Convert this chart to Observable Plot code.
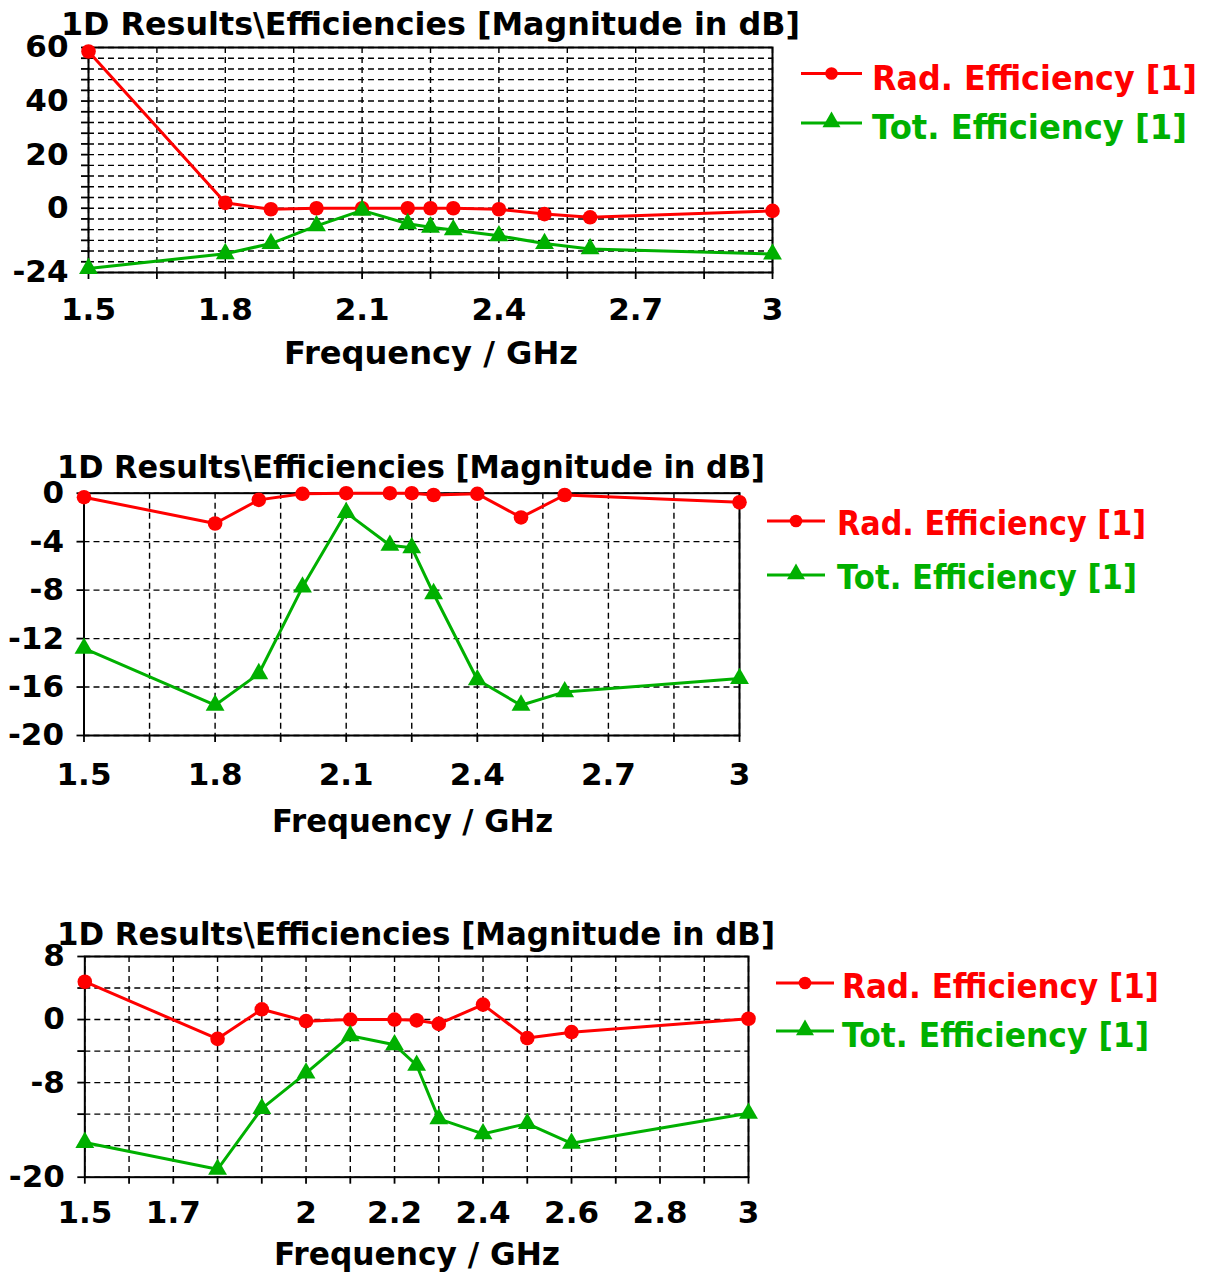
<!DOCTYPE html>
<html>
<head>
<meta charset="utf-8">
<script src="https://cdn.jsdelivr.net/npm/d3@7"></script>
<script src="https://cdn.jsdelivr.net/npm/@observablehq/plot@0.6"></script>
<style>
  body { margin: 0; background: #fff; }
  #root { position: relative; width: 1209px; height: 1272px; overflow: hidden; background: #fff; }
  #root > svg { position: absolute; left: 0; }
</style>
</head>
<body>
<div id="root"></div>
<script>
// ---------- data ----------
const freqGHz = [1.5, 1.8, 1.9, 2.0, 2.1, 2.2, 2.25, 2.3, 2.4, 2.5, 2.6, 3.0];

const radEff1 = [58.5, 2, -0.4, 0, 0, 0, 0, 0, -0.4, -2.2, -3.4, -1];
const totEff1 = [-22.5, -17, -13.2, -6.6, -0.8, -5.8, -7.1, -8.1, -10.3, -13.2, -15.2, -17.1];

const radEff2 = [-0.33, -2.5, -0.55, -0.05, 0, 0, 0, -0.15, -0.05, -2.0, -0.15, -0.75];
const totEff2 = [-12.8, -17.5, -14.9, -7.75, -1.6, -4.3, -4.5, -8.3, -15.4, -17.5, -16.4, -15.3];

const radEff3 = [4.8, -2.45, 1.3, -0.2, 0, 0, -0.1, -0.55, 1.9, -2.35, -1.6, 0.1];
const totEff3 = [-15.6, -19.0, -11.3, -6.8, -2.05, -3.2, -5.8, -12.6, -14.5, -13.2, -15.7, -11.9];

// tick labels and grid positions
const xLabels12 = [1.5, 1.8, 2.1, 2.4, 2.7, 3];
const xGrid12 = [1.5, 1.65, 1.8, 1.95, 2.1, 2.25, 2.4, 2.55, 2.7, 2.85, 3];
const xLabels3 = [1.5, 1.7, 2, 2.2, 2.4, 2.6, 2.8, 3];
const xGrid3 = [1.5, 1.6, 1.7, 1.8, 1.9, 2.0, 2.1, 2.2, 2.3, 2.4, 2.5, 2.6, 2.7, 2.8, 2.9, 3.0];

const yLabels1 = [60, 40, 20, 0, -24];
const yGrid1 = [60, 56, 52, 48, 44, 40, 36, 32, 28, 24, 20, 16, 12, 8, 4, 0, -4, -8, -12, -16, -20, -24];
const yLabels2 = [0, -4, -8, -12, -16, -20];
const yGrid2 = [0, -4, -8, -12, -16, -20];
const yLabels3 = [8, 0, -8, -20];
const yGrid3 = [8, 4, 0, -4, -8, -12, -16, -20];

const titleText = "1D Results\\Efficiencies [Magnitude in dB]";
const xAxisText = "Frequency / GHz";
const seriesNames = ["Rad. Efficiency [1]", "Tot. Efficiency [1]"];

const RED = "#ff0000";
const GREEN = "#00b000";
const FONT = "DejaVu Sans";

// ---------- layout ----------
const panels = [
  { top: 0,   mt: 47,   ph: 225,   ml: 88,   xr: 772, ydom: [-24, 60], rad: radEff1, tot: totEff1,
    xLabels: xLabels12, xGrid: xGrid12, yLabels: yLabels1, yGrid: yGrid1, xpad: 25,
    title: {x: 61, y: 35, len: 739},
    xlab: {x: 284, y: 364, len: 294},
    leg: {x0: 801, x1: 862, y1: 73.5, y2: 123, tx: 872, b1: 90, b2: 139, l1: 325, l2: 315} },
  { top: 440, mt: 52.7, ph: 242.3, ml: 83.5, xr: 739, ydom: [-20, 0], rad: radEff2, tot: totEff2,
    xLabels: xLabels12, xGrid: xGrid12, yLabels: yLabels2, yGrid: yGrid2, xpad: 27,
    title: {x: 57, y: 478, len: 708},
    xlab: {x: 272, y: 832, len: 281},
    leg: {x0: 767, x1: 825, y1: 521, y2: 575, tx: 837, b1: 535, b2: 589, l1: 309, l2: 300} },
  { top: 900, mt: 56,   ph: 220.7, ml: 84.3, xr: 748, ydom: [-20, 8], rad: radEff3, tot: totEff3,
    xLabels: xLabels3, xGrid: xGrid3, yLabels: yLabels3, yGrid: yGrid3, xpad: 24,
    title: {x: 57, y: 945, len: 718},
    xlab: {x: 274, y: 1265, len: 286},
    leg: {x0: 776, x1: 834, y1: 983, y2: 1031, tx: 842, b1: 998, b2: 1047, l1: 317, l2: 307} }
];

const root = document.getElementById("root");
const fmtY = d => (d < 0 ? "-" + Math.abs(d) : String(d));
const fnt = {fontSize: 31, fontWeight: "bold", fill: "black"};

for (const cfg of panels) {
  const rows = freqGHz.map((f, i) => ({f, rad: cfg.rad[i], tot: cfg.tot[i]}));
  const mb = 80;
  const chart = Plot.plot({
    width: 1209,
    height: cfg.mt + cfg.ph + mb,
    marginTop: cfg.mt,
    marginLeft: cfg.ml,
    marginRight: 1209 - cfg.xr,
    marginBottom: mb,
    style: {fontFamily: FONT, background: "transparent", overflow: "visible"},
    x: {domain: [1.5, 3]},
    y: {domain: cfg.ydom},
    marks: [
      Plot.ruleX(cfg.xGrid, {stroke: "black", strokeWidth: 1.4, strokeDasharray: "6,4"}),
      Plot.ruleY(cfg.yGrid, {stroke: "black", strokeWidth: 1.4, strokeDasharray: "6,4"}),
      Plot.frame({stroke: "black", strokeWidth: 2}),
      Plot.axisX({ticks: cfg.xGrid, tickSize: 7, tickFormat: () => "", label: null, strokeWidth: 1.8}),
      Plot.axisY({ticks: cfg.yGrid, tickSize: 7, tickFormat: () => "", label: null, strokeWidth: 1.8}),
      Plot.axisX({ticks: cfg.xLabels, tickSize: 0, tickPadding: cfg.xpad, tickFormat: d => String(d), label: null, ...fnt}),
      Plot.axisY({ticks: cfg.yLabels, tickSize: 0, tickPadding: 20, tickFormat: fmtY, label: null, ...fnt}),
      Plot.line(rows, {x: "f", y: "rad", stroke: RED, strokeWidth: 3}),
      Plot.line(rows, {x: "f", y: "tot", stroke: GREEN, strokeWidth: 3}),
      Plot.dot(rows, {x: "f", y: "rad", r: 7.3, fill: RED, symbol: "circle"}),
      Plot.dot(rows, {x: "f", y: "tot", r: 7, fill: GREEN, symbol: "triangle"})
    ]
  });
  chart.style.top = cfg.top + "px";
  root.appendChild(chart);
}

// ---------- titles, axis labels, legends ----------
const svg = d3.create("svg")
  .attr("width", 1209).attr("height", 1272)
  .style("top", "0px")
  .attr("font-family", FONT).attr("font-weight", "bold");

for (const cfg of panels) {
  svg.append("text")
    .attr("x", cfg.title.x).attr("y", cfg.title.y)
    .attr("font-size", 32).attr("fill", "black")
    .attr("textLength", cfg.title.len).attr("lengthAdjust", "spacingAndGlyphs")
    .text(titleText);
  svg.append("text")
    .attr("x", cfg.xlab.x).attr("y", cfg.xlab.y)
    .attr("font-size", 32).attr("fill", "black")
    .attr("textLength", cfg.xlab.len).attr("lengthAdjust", "spacingAndGlyphs")
    .text(xAxisText);

  const L = cfg.leg;
  const cx = (L.x0 + L.x1) / 2;
  // Rad. Efficiency
  svg.append("line").attr("x1", L.x0).attr("x2", L.x1).attr("y1", L.y1).attr("y2", L.y1)
    .attr("stroke", RED).attr("stroke-width", 3);
  svg.append("circle").attr("cx", cx).attr("cy", L.y1).attr("r", 6.3).attr("fill", RED);
  svg.append("text").attr("x", L.tx).attr("y", L.b1).attr("font-size", 33).attr("fill", RED)
    .attr("textLength", L.l1).attr("lengthAdjust", "spacingAndGlyphs").text(seriesNames[0]);
  // Tot. Efficiency
  svg.append("line").attr("x1", L.x0).attr("x2", L.x1).attr("y1", L.y2).attr("y2", L.y2)
    .attr("stroke", GREEN).attr("stroke-width", 3);
  svg.append("path").attr("transform", `translate(${cx},${L.y2 - 1})`)
    .attr("d", d3.symbol(d3.symbolTriangle, 140)()).attr("fill", GREEN);
  svg.append("text").attr("x", L.tx).attr("y", L.b2).attr("font-size", 33).attr("fill", GREEN)
    .attr("textLength", L.l2).attr("lengthAdjust", "spacingAndGlyphs").text(seriesNames[1]);
}
root.appendChild(svg.node());
</script>
</body>
</html>
